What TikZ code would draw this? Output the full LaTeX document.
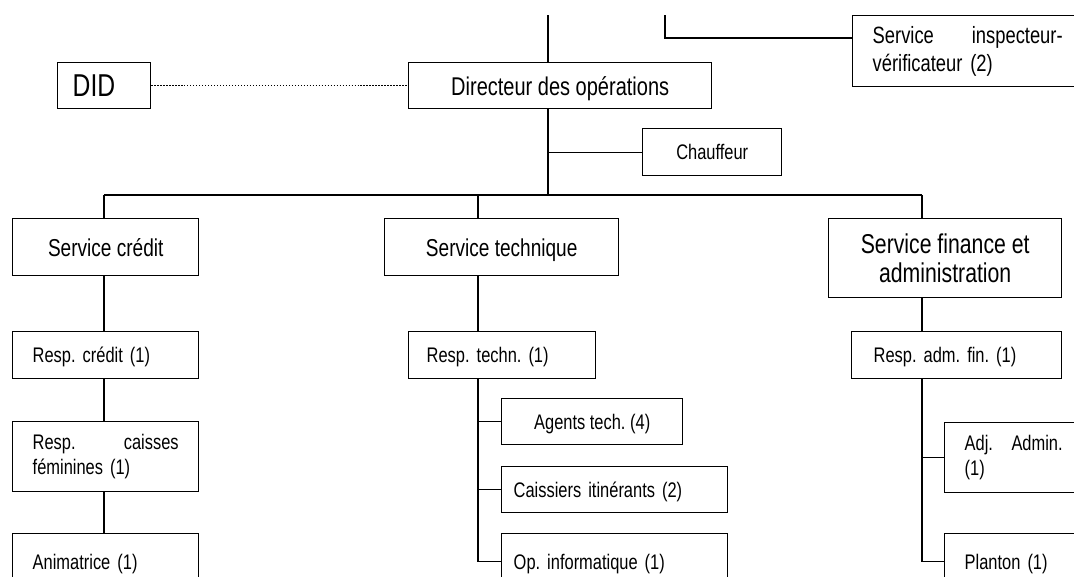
\documentclass[tikz,border=0pt]{standalone}
\usepackage{fontspec}
\setmainfont{Liberation Sans}[FakeStretch=0.78]
\frenchspacing
\newlength\pxl
\setlength\pxl{0.02cm}

\begin{document}
\begin{tikzpicture}[x=0.02cm,y=-0.02cm,line width=0.8pt,
  box/.style={draw,anchor=north west,inner ysep=0pt},
  one/.style={text depth=0pt},
  lbox/.style={box,align=left,inner xsep=20*\pxl},
  cbox/.style={box,align=center},
  huge/.style={font=\fontsize{18}{21}\selectfont},
  big/.style={font=\fontsize{15.5}{16.8}\selectfont},
  dirf/.style={font=\fontsize{14.6}{17}\selectfont},
  mid/.style={font=\fontsize{13.9}{16}\selectfont},
  insf/.style={font=\fontsize{13.4}{16.1}\selectfont},
  small/.style={font=\fontsize{12}{14.4}\selectfont}]
  \useasboundingbox (0,0) rectangle (1074,576);
  \clip (0,0) rectangle (1074,576);

  \node[lbox,one,huge,inner xsep=15*\pxl,text width=63*\pxl,minimum height=46*\pxl]
    (did) at (57,62) {DID};
  \node[cbox,one,dirf,minimum width=303*\pxl,minimum height=46*\pxl]
    (dir) at (408,62) {Directeur des opérations};
  \node[lbox,insf,text width=200*\pxl,minimum height=71*\pxl] (insp) at (852,15)
    {\makebox[190\pxl][s]{Service\hfill inspecteur-}\\vérificateur (2)};
  \node[cbox,one,small,minimum width=139*\pxl,minimum height=47*\pxl]
    (chauf) at (642,128) {Chauffeur};

  \node[cbox,one,mid,minimum width=186*\pxl,minimum height=57*\pxl]
    (scred) at (12,218) {Service crédit};
  \node[cbox,one,mid,minimum width=234*\pxl,minimum height=57*\pxl]
    (stech) at (384,218) {Service technique};
  \node[cbox,big,minimum width=233*\pxl,minimum height=79*\pxl]
    (sfin) at (828,218) {Service finance et\\administration};

  \node[lbox,one,small,text width=146*\pxl,minimum height=47*\pxl]
    (rcred) at (12,331) {Resp. crédit (1)};
  \node[lbox,one,small,inner xsep=18*\pxl,text width=151*\pxl,minimum height=47*\pxl]
    (rtech) at (408,331) {Resp. techn. (1)};
  \node[lbox,one,small,inner xsep=22*\pxl,text width=166*\pxl,minimum height=47*\pxl]
    (rfin) at (851,331) {Resp. adm. fin. (1)};

  \node[lbox,small,text width=146*\pxl,minimum height=70*\pxl] (rcaiss) at (12,421)
    {\makebox[146\pxl][s]{Resp.\hfill caisses}\\féminines (1)};
  \node[lbox,one,small,text width=146*\pxl,minimum height=56*\pxl]
    (anim) at (12,533) {Animatrice (1)};

  \node[cbox,one,small,minimum width=181*\pxl,minimum height=46*\pxl]
    (agents) at (501,398) {Agents tech. (4)};
  \node[lbox,one,small,inner xsep=12*\pxl,text width=202*\pxl,minimum height=46*\pxl]
    (caiss) at (501,466) {Caissiers itinérants (2)};
  \node[lbox,one,small,inner xsep=12*\pxl,text width=202*\pxl,minimum height=56*\pxl]
    (opinf) at (501,533) {Op. informatique (1)};

  \node[lbox,small,text width=130*\pxl,minimum height=70*\pxl] (adj) at (944,422)
    {\makebox[98\pxl][s]{Adj.\hfill Admin.}\\(1)};
  \node[lbox,one,small,text width=130*\pxl,minimum height=56*\pxl]
    (plant) at (944,533) {Planton (1)};

  \coordinate (t1) at (548,15);
  \coordinate (t2) at (665,15);
  \coordinate (t2b) at (665,38);
  \coordinate (bl) at (104,195);
  \coordinate (tj) at (478,195);
  \coordinate (br) at (922,195);

  \draw[dash pattern=on 0.7pt off 1pt] (did.east) -- (dir.west);
  \draw (t1) -- (t1 |- dir.north);
  \draw (t2) -- (t2b) -- (t2b -| insp.west);
  \draw (dir.south -| t1) -- (t1 |- bl);
  \draw (t1 |- chauf.west) -- (chauf.west);
  \draw (bl) -- (br);

  \draw (bl) -- (bl |- scred.north);
  \draw (scred.south -| bl) -- (bl |- rcred.north);
  \draw (rcred.south -| bl) -- (bl |- rcaiss.north);
  \draw (rcaiss.south -| bl) -- (bl |- anim.north);

  \draw (tj) -- (tj |- stech.north);
  \draw (stech.south -| tj) -- (tj |- rtech.north);
  \draw (rtech.south -| tj) -- (tj |- opinf.west) -- (opinf.west);
  \draw (tj |- agents.west) -- (agents.west);
  \draw (tj |- caiss.west) -- (caiss.west);

  \draw (br) -- (br |- sfin.north);
  \draw (sfin.south -| br) -- (br |- rfin.north);
  \draw (rfin.south -| br) -- (br |- plant.west) -- (plant.west);
  \draw (br |- adj.west) -- (adj.west);
\end{tikzpicture}
\end{document}
